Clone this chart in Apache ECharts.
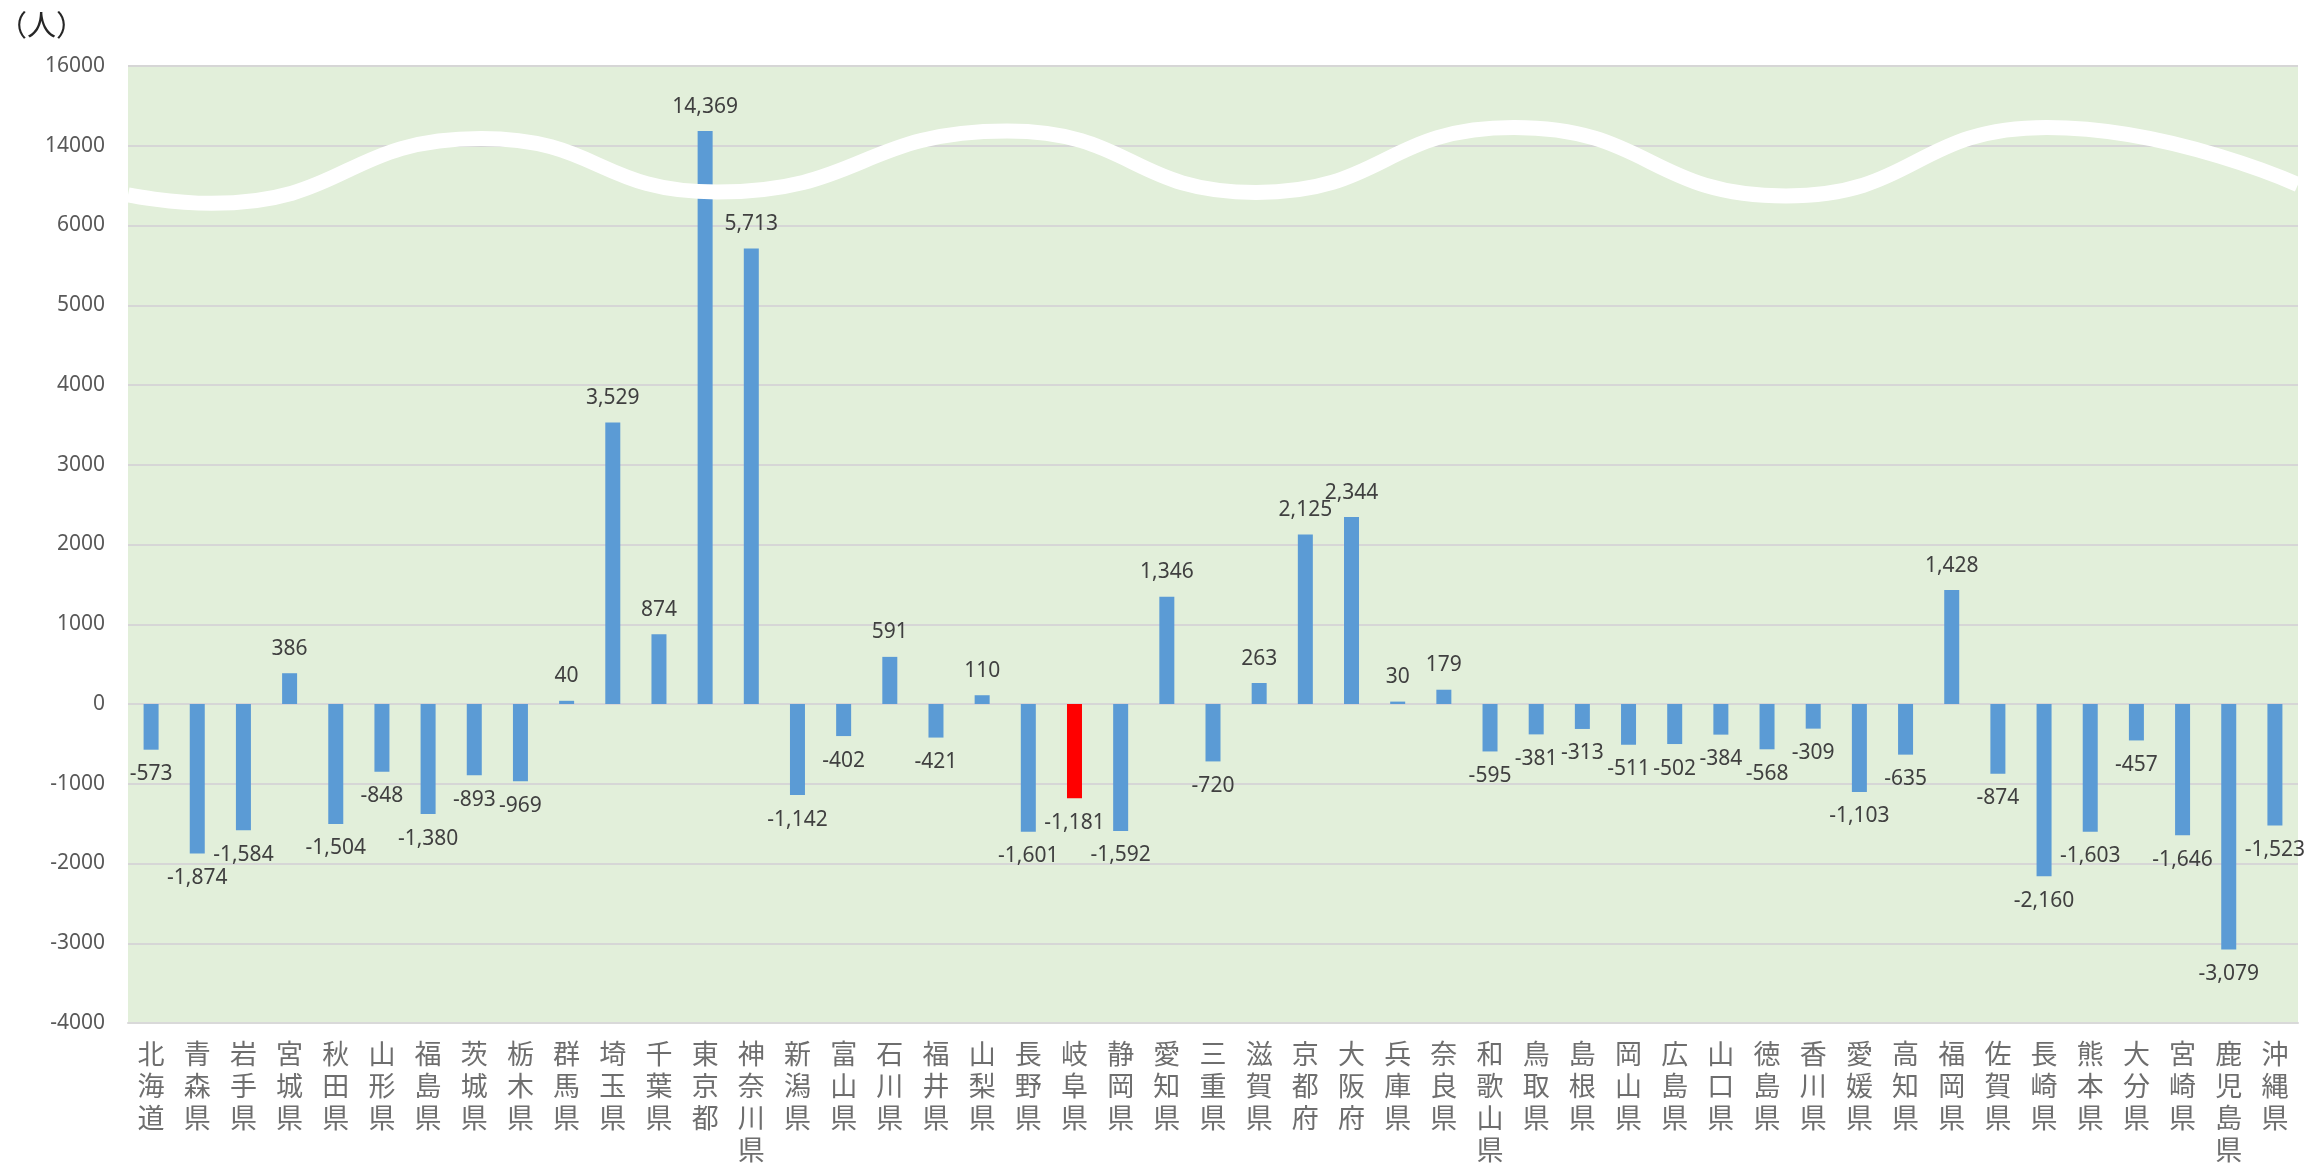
<!DOCTYPE html>
<html>
<head>
<meta charset="utf-8">
<script src="https://cdn.jsdelivr.net/npm/echarts@6/dist/echarts.min.js"></script>
<style>
html,body{margin:0;padding:0;background:#ffffff;}
#chart{width:2311px;height:1166px;}
</style>
</head>
<body>
<div id="chart"></div>
<script>
// ---- data ----
const prefectures = ['北海道','青森県','岩手県','宮城県','秋田県','山形県','福島県','茨城県','栃木県','群馬県',
  '埼玉県','千葉県','東京都','神奈川県','新潟県','富山県','石川県','福井県','山梨県','長野県',
  '岐阜県','静岡県','愛知県','三重県','滋賀県','京都府','大阪府','兵庫県','奈良県','和歌山県',
  '鳥取県','島根県','岡山県','広島県','山口県','徳島県','香川県','愛媛県','高知県','福岡県',
  '佐賀県','長崎県','熊本県','大分県','宮崎県','鹿児島県','沖縄県'];
const values = [-573,-1874,-1584,386,-1504,-848,-1380,-893,-969,40,
  3529,874,14369,5713,-1142,-402,591,-421,110,-1601,
  -1181,-1592,1346,-720,263,2125,2344,30,179,-595,
  -381,-313,-511,-502,-384,-568,-309,-1103,-635,1428,
  -874,-2160,-1603,-457,-1646,-3079,-1523];
const highlightPref = '岐阜県';
const yTickLabels = [-4000,-3000,-2000,-1000,0,1000,2000,3000,4000,5000,6000,14000,16000];
const unitLabel = '（人）';

// axis break: below 6000 one grid step = 1000, above the break one grid step = 2000
const breakLow = 6000, breakHigh = 14000, lowerStep = 1000, upperStep = 2000;
function toAxis(v) {
  return v <= breakLow ? v : breakLow + lowerStep + (v - breakHigh) * lowerStep / upperStep;
}

// wave (break marker) anchor points: category position and axis level
const waveX = [-0.5, 1.31, 7.15, 12.26, 18.54, 23.93, 29.52, 35.41, 41.06, 46.5];
const waveY = [6384, 6278, 7091, 6420, 7184, 6415, 7229, 6371, 7229, 6512];

// ---- chart ----
const fmt = v => v.toLocaleString('en-US');
const barData = values.map((v, i) => ({
  value: toAxis(v),
  realValue: v,
  itemStyle: { color: prefectures[i] === highlightPref ? '#FF0000' : '#5B9BD5' },
  label: { position: v < 0 ? 'bottom' : 'top' }
}));
const waveData = waveX.map((x, i) => [x, waveY[i]]);

const yMin = toAxis(yTickLabels[0]);
const yMax = toAxis(yTickLabels[yTickLabels.length - 1]);

const chart = echarts.init(document.getElementById('chart'));
chart.setOption({
  animation: false,
  backgroundColor: '#ffffff',
  title: {
    text: unitLabel,
    left: -2, top: 10, padding: 0,
    textStyle: { fontFamily: 'Noto Sans CJK JP', fontSize: 29, fontWeight: 'normal', color: '#262626' }
  },
  grid: {
    left: 128, right: 13, top: 66, bottom: 140,
    show: true, backgroundColor: '#E2EFDA', borderWidth: 0
  },
  xAxis: [{
    type: 'category',
    data: prefectures,
    axisLine: { onZero: false, lineStyle: { color: '#D9D9D9', width: 2 } },
    axisTick: { show: false },
    axisLabel: {
      interval: 0,
      margin: 15,
      fontFamily: 'Noto Sans CJK JP',
      fontSize: 27,
      lineHeight: 32,
      color: '#6E6E6E',
      verticalAlign: 'top',
      formatter: v => v.split('').join('\n')
    }
  }, {
    type: 'value',
    min: -0.5, max: 46.5,
    show: false
  }],
  yAxis: {
    type: 'value',
    min: yMin, max: yMax, interval: lowerStep,
    axisLine: { show: false },
    axisTick: { show: false },
    splitLine: { lineStyle: { color: '#D6D6D6', width: 2 } },
    axisLabel: {
      margin: 23,
      fontFamily: 'Noto Sans',
      fontSize: 21,
      color: '#595959',
      formatter: v => {
        const idx = Math.round((v - yMin) / lowerStep);
        return yTickLabels[idx] !== undefined ? String(yTickLabels[idx]) : '';
      }
    }
  },
  series: [{
    type: 'bar',
    xAxisIndex: 0,
    data: barData,
    barWidth: 15,
    z: 2,
    label: {
      show: true,
      distance: 14,
      fontFamily: 'Noto Sans',
      fontSize: 21,
      color: '#404040',
      formatter: p => fmt(p.data.realValue)
    }
  }, {
    type: 'line',
    xAxisIndex: 1,
    data: waveData,
    smooth: true,
    symbol: 'none',
    silent: true,
    z: 5,
    lineStyle: { color: '#ffffff', width: 15, cap: 'butt' }
  }]
});
</script>
</body>
</html>
